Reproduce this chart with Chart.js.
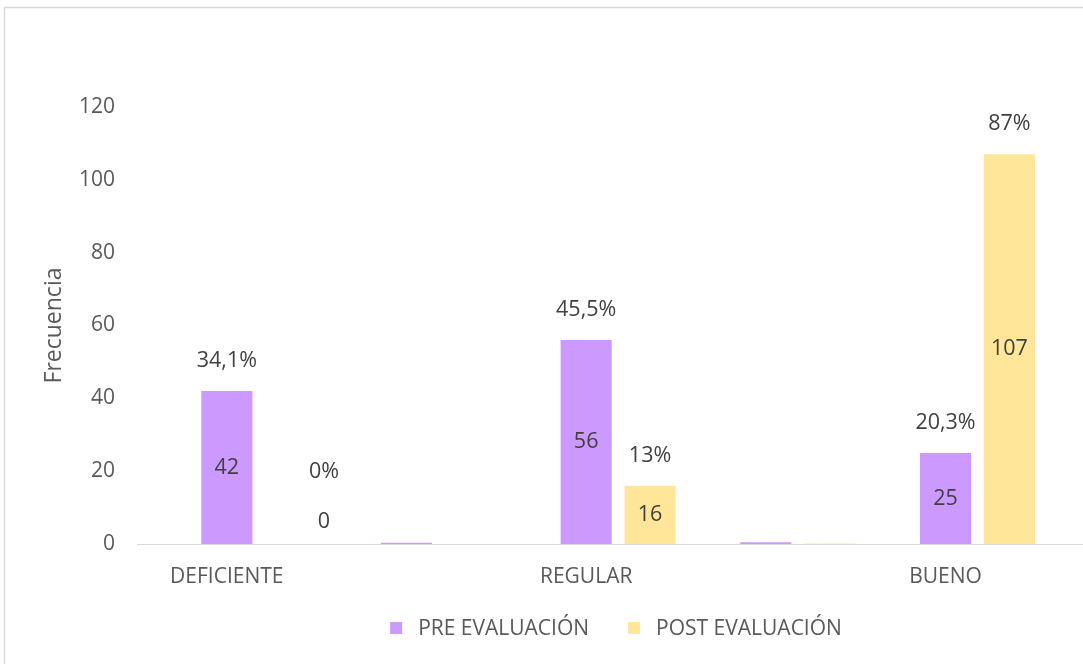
<!DOCTYPE html>
<html><head><meta charset="utf-8">
<script src="https://cdn.jsdelivr.net/npm/chart.js@4"></script>
<style>
html,body{margin:0;padding:0;overflow:hidden;background:#fff}
#wrap{position:absolute;left:0;top:0;width:1232px;height:664px}
</style>
</head><body><div id="wrap"><canvas id="c"></canvas></div>
<script>
// ---- data ----
const categories = ['DEFICIENTE', '', 'REGULAR', '', 'BUENO', ''];
const preValues  = [42, 0.341, 56, 0.455, 25, 0.203];
const postValues = [0, 0, 16, 0.13, 107, 0.87];
const seriesNames = ['PRE EVALUACIÓN', 'POST EVALUACIÓN'];
const yTicks = [0, 20, 40, 60, 80, 100, 120];
const yTitle = 'Frecuencia';

// ---- style ----
const FONT = '"Open Sans", sans-serif';
const AXIS_COLOR = '#595959';
const LABEL_COLOR = '#404040';
const PURPLE = '#CC99FF';
const YELLOW = '#FFE699';

function fmtPct(v) {
  return String(Math.round(v * 1000) / 10).replace('.', ',') + '%';
}

const frame = {
  id: 'frame',
  beforeDraw(chart) {
    const ctx = chart.ctx;
    ctx.save();
    ctx.fillStyle = '#fff';
    ctx.fillRect(0, 0, chart.width, chart.height);
    ctx.strokeStyle = '#D9D9D9';
    ctx.lineWidth = 1.5;
    ctx.strokeRect(4.5, 7.5, chart.width + 50, chart.height + 50);
    ctx.restore();
  }
};

const labels = {
  id: 'labels',
  afterDatasetsDraw(chart) {
    const ctx = chart.ctx;
    const y = chart.scales.y;
    const base = y.getPixelForValue(0);
    ctx.save();
    ctx.font = '21.5px ' + FONT;
    ctx.fillStyle = LABEL_COLOR;
    ctx.textAlign = 'center';
    ctx.textBaseline = 'middle';
    [1, 2].forEach(d => {
      const data = chart.data.datasets[d].data;
      const meta = chart.getDatasetMeta(d);
      categories.forEach((c, i) => {
        if (c === '') return;
        const bar = meta.data[i];
        const v = data[i];
        const pct = data[i + 1];
        const cx = bar.x + (v === 0 ? bar.width * 0.65 : 0);
        const cy = Math.min((bar.y + base) / 2, base - 22);
        ctx.fillText(String(v), cx, cy);
        const py = Math.min(bar.y - 30, cy - 50);
        ctx.fillText(fmtPct(pct), cx, py);
      });
    });
    ctx.restore();
  }
};

const legend = {
  id: 'customLegend',
  afterDraw(chart) {
    const ctx = chart.ctx;
    ctx.save();
    ctx.font = '21px ' + FONT;
    ctx.textBaseline = 'middle';
    ctx.textAlign = 'left';
    const items = chart.data.datasets.filter(ds => ds.label);
    const box = 12, gapText = 16, gapItem = 39;
    const widths = items.map(it => box + gapText + ctx.measureText(it.label).width);
    const total = widths.reduce((a, b) => a + b, 0) + gapItem * (items.length - 1);
    let x = chart.width / 2 - total / 2;
    const yc = 628;
    items.forEach((it, k) => {
      ctx.fillStyle = it.backgroundColor;
      ctx.fillRect(x, yc - box / 2, box, box);
      ctx.fillStyle = AXIS_COLOR;
      ctx.fillText(it.label, x + box + gapText, yc + 1);
      x += widths[k] + gapItem;
    });
    ctx.restore();
  }
};

new Chart(document.getElementById('c'), {
  type: 'bar',
  data: {
    labels: categories,
    datasets: [
      { label: '', data: categories.map(() => null), backgroundColor: 'rgba(0,0,0,0)' },
      { label: seriesNames[0], data: preValues, backgroundColor: PURPLE },
      { label: seriesNames[1], data: postValues, backgroundColor: YELLOW }
    ]
  },
  options: {
    responsive: true,
    maintainAspectRatio: false,
    animation: false,
    devicePixelRatio: 1,
    categoryPercentage: 1.0667,
    barPercentage: 0.8,
    layout: { padding: { left: 0, right: 17, top: 107, bottom: 0 } },
    plugins: { legend: { display: false }, tooltip: { enabled: false } },
    scales: {
      x: {
        offset: true,
        grid: { display: false, drawTicks: false },
        border: { display: true, color: '#D9D9D9', width: 1 },
        ticks: { color: AXIS_COLOR, font: { family: FONT, size: 21 }, padding: 20, maxRotation: 0, autoSkip: false },
        afterFit(s) { s.height = 120; }
      },
      y: {
        min: yTicks[0],
        max: yTicks[yTicks.length - 1],
        ticks: { stepSize: yTicks[1] - yTicks[0], color: AXIS_COLOR, font: { family: FONT, size: 21 }, padding: 22 },
        grid: { display: false, drawTicks: false },
        border: { display: false },
        title: { display: true, text: yTitle, color: AXIS_COLOR, font: { family: FONT, size: 23 }, padding: { top: 41, bottom: 0 } },
        afterFit(s) { s.width = 137; }
      }
    }
  },
  plugins: [frame, labels, legend]
});
</script>
</body></html>
